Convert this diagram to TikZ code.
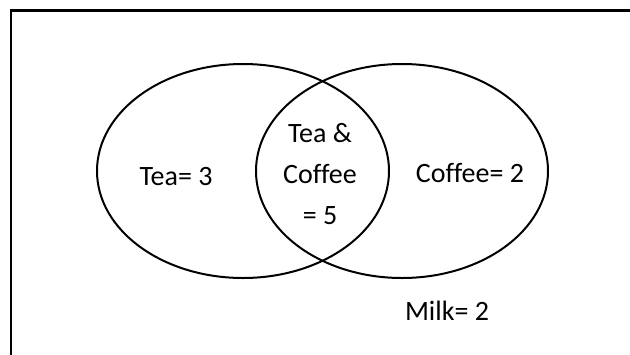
\documentclass[tikz,border=0pt]{standalone}
\usepackage{fontspec}
\setmainfont[Ligatures=CommonOff]{Carlito}
\usetikzlibrary{shapes.geometric}

\begin{document}
\begin{tikzpicture}[
  x=1pt, y=-1pt,
  set/.style={draw=black, line width=2pt, ellipse, inner sep=0pt,
    minimum width=292pt, minimum height=214pt},
  txt/.style={font=\fontsize{28}{41}\selectfont, anchor=base, inner sep=0pt}
  ]

  \useasboundingbox (0,0) rectangle (630,354);
  \clip (0,0) rectangle (630,354);

  % outer frame (runs off the page on the right and at the bottom)
  \node (frame) [draw=black, line width=2.5pt, rectangle, inner sep=0pt,
    minimum width=700pt, minimum height=420pt, anchor=north west] at (9.5,9) {};

  \node (tea) [set] at (243,171) {};
  \node (coffee) [set] at (402,171) {};

  \node (tealbl) [txt] at (176,185) {Tea= 3};
  \node (coffeelbl) [txt] at (470,182) {Coffee= 2};
  \node (bothA) [txt] at (320,142) {Tea \&};
  \node (bothB) [txt] at (320,183) {Coffee};
  \node (bothC) [txt] at (320,224) {= 5};
  \node (milk) [txt] at (447,320) {Milk= 2};
\end{tikzpicture}
\end{document}
